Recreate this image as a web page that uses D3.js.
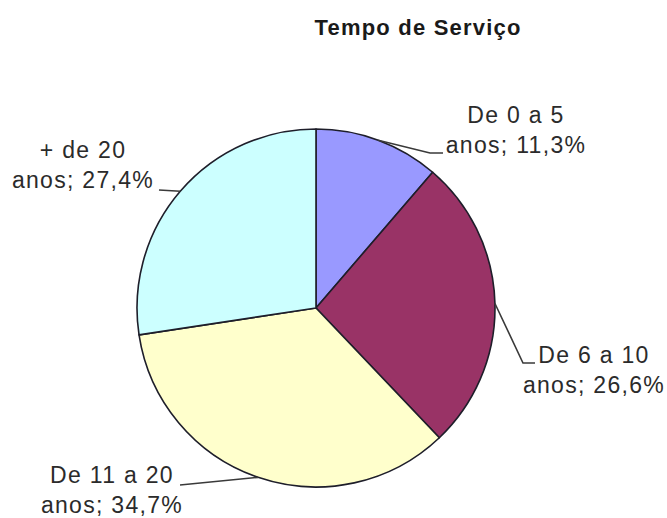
<!DOCTYPE html>
<html>
<head>
<meta charset="utf-8">
<script src="https://cdn.jsdelivr.net/npm/d3@7"></script>
<style>
	body { margin: 0; background: #fff; }
	svg { display: block; }
	text { font-family: "Liberation Sans", Arial, sans-serif; fill: #2b2b2b; }
</style>
</head>
<body>
<svg id="chart"></svg>
<script>
// chart data
var title = "Tempo de Serviço";
var categories = ["De 0 a 5 anos", "De 6 a 10 anos", "De 11 a 20 anos", "+ de 20 anos"];
var labelLine1 = ["De 0 a 5", "De 6 a 10", "De 11 a 20", "+ de 20"];
var labelLine2 = ["anos", "anos", "anos", "anos"];
var values = [11.3, 26.6, 34.7, 27.4];
var colors = ["#9999ff", "#993366", "#ffffcc", "#ccffff"];

// label placement (text block centre, first baseline, leader elbow/end)
var labelLayout = [
	{ x: 516, y: 123, elbow: [430, 153], end: [443, 153] },
	{ x: 594, y: 363, elbow: [523, 363], end: [535, 363] },
	{ x: 112, y: 483, elbow: [180, 485], end: [180, 485] },
	{ x: 83, y: 158, elbow: [159, 190], end: [159, 190] }
];

var width = 667,
	height = 518,
	cx = 316,
	cy = 308,
	radius = 179,
	lineGap = 30;

var svg = d3.select("#chart")
	.attr("width", width)
	.attr("height", height);

svg.append("text")
	.attr("x", 418)
	.attr("y", 35)
	.attr("text-anchor", "middle")
	.style("font-size", "22px")
	.style("font-weight", "bold")
	.style("letter-spacing", "1.2px")
	.style("fill", "#1a1a1a")
	.text(title);

var pie = d3.pie().sort(null).value(function(d) { return d; });
var arcs = pie(values);
var arc = d3.arc().innerRadius(0).outerRadius(radius);

var g = svg.append("g").attr("transform", "translate(" + cx + "," + cy + ")");

g.selectAll("path.slice")
	.data(arcs)
	.enter()
	.append("path")
	.attr("class", "slice")
	.attr("d", arc)
	.attr("fill", function(d, i) { return colors[i]; })
	.attr("stroke", "#1e1e2a")
	.attr("stroke-width", 1.6)
	.attr("stroke-linejoin", "round");

// leader lines
var fmt = function(v) { return v.toFixed(1).replace(".", ","); };
arcs.forEach(function(d, i) {
	var a = (d.startAngle + d.endAngle) / 2;
	var p0 = [cx + radius * Math.sin(a), cy - radius * Math.cos(a)];
	var L = labelLayout[i];
	svg.append("path")
		.attr("d", d3.line()([p0, L.elbow, L.end]))
		.attr("fill", "none")
		.attr("stroke", "#3a3a3a")
		.attr("stroke-width", 1.6);
	var t = svg.append("text")
		.attr("text-anchor", "middle")
		.style("font-size", "23px")
		.style("letter-spacing", "1.3px");
	t.append("tspan").attr("x", L.x).attr("y", L.y).text(labelLine1[i]);
	t.append("tspan").attr("x", L.x).attr("y", L.y + lineGap)
		.text(labelLine2[i] + "; " + fmt(values[i]) + "%");
});
</script>
</body>
</html>
